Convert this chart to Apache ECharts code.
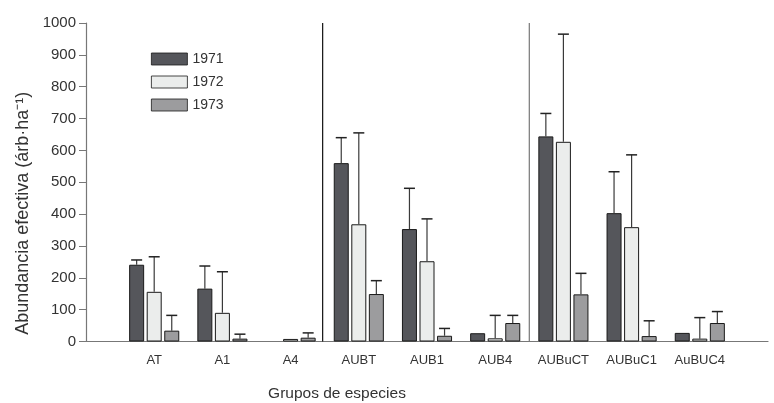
<!DOCTYPE html>
<html>
<head>
<meta charset="utf-8">
<script src="https://cdn.jsdelivr.net/npm/echarts@6/dist/echarts.min.js"></script>
<style>
  html, body { margin: 0; padding: 0; background: #fff; }
  #chart { width: 774px; height: 403px; }
</style>
</head>
<body>
<div id="chart"></div>
<script>
// datos
var categories = ['AT', 'A1', 'A4', 'AUBT', 'AUB1', 'AUB4', 'AUBuCT', 'AUBuC1', 'AuBUC4'];
var years = ['1971', '1972', '1973'];
// null = sin barra
var v1971 = [241, 166, null, 560, 353, 26, 644, 403, 27];
var v1972 = [156, 90, 8, 368, 252, 10, 627, 359, 9];
var v1973 = [34, 9, 12, 149, 18, 58, 148, 17, 58];
// extremo superior de la barra de error (null = sin barra)
var e1971 = [256, 237, null, 640, 481, null, 716, 533, null];
var e1972 = [266, 219, null, 655, 385, 82, 965, 586, 75];
var e1973 = [82, 23, 27, 191, 41, 82, 214, 65, 94];
var yTicks = [0, 100, 200, 300, 400, 500, 600, 700, 800, 900, 1000];
// separadores verticales entre grupos (en unidades de categoria)
var separators = [3.47, 6.5];

var colors = ['#55565b', '#ebedec', '#9c9c9e'];
var barWidth = 15;
var barGap = 0.17;
var font = 'Liberation Sans';

// medio hueco vacio a cada lado
var axisCats = [''].concat(categories, ['']);
function pad(arr) { return [null].concat(arr, [null]); }

var values = [v1971, v1972, v1973];
var errors = [e1971, e1972, e1973];

var series = [];
years.forEach(function (y, i) {
    series.push({
        name: y,
        type: 'bar',
        barWidth: barWidth,
        barGap: (barGap * 100) + '%',
        data: pad(values[i]),
        itemStyle: { color: colors[i], borderColor: '#1a1a1a', borderWidth: 1 }
    });
});

years.forEach(function (y, i) {
    var data = [];
    categories.forEach(function (c, k) {
        if (errors[i][k] != null) data.push([k + 1, values[i][k] || 0, errors[i][k]]);
    });
    series.push({
        name: 'err' + y,
        type: 'custom',
        z: 5,
        data: data,
        renderItem: function (params, api) {
            var base = api.coord([api.value(0), api.value(1)]);
            var top = api.coord([api.value(0), api.value(2)]);
            var x = base[0] + (i - 1) * barWidth * (1 + barGap);
            var cap = 5.5;
            return {
                type: 'group',
                children: [
                    { type: 'line', shape: { x1: x, y1: base[1], x2: x, y2: top[1] },
                      style: { stroke: '#3a3a3a', lineWidth: 1.2 } },
                    { type: 'line', shape: { x1: x - cap, y1: top[1], x2: x + cap, y2: top[1] },
                      style: { stroke: '#222', lineWidth: 1.5 } }
                ]
            };
        }
    });
});

series.push({
    name: 'sep',
    type: 'custom',
    xAxisIndex: 1,
    data: separators.map(function (s, k) { return [s, k]; }),
    renderItem: function (params, api) {
        var p0 = api.coord([api.value(0), yTicks[0]]);
        var p1 = api.coord([api.value(0), yTicks[yTicks.length - 1]]);
        return { type: 'line', shape: { x1: p0[0], y1: p0[1], x2: p1[0], y2: p1[1] },
                 style: { stroke: api.value(1) === 0 ? '#111' : '#777', lineWidth: 1.2 } };
    }
});

var option = {
    animation: false,
    textStyle: { fontFamily: font },
    grid: { left: 86, right: 6, top: 23, bottom: 61.5, outerBoundsMode: 'none' },
    legend: {
        data: years,
        orient: 'vertical',
        left: 146,
        top: 47,
        itemWidth: 36,
        itemHeight: 12,
        itemGap: 9,
        icon: 'rect',
        itemStyle: { borderWidth: 0.8 },
        textStyle: { fontSize: 14, color: '#333', fontFamily: font }
    },
    xAxis: [{
        type: 'category',
        data: axisCats,
        boundaryGap: false,
        name: 'Grupos de especies',
        nameLocation: 'middle',
        nameGap: 44,
        nameTextStyle: { fontSize: 15.5, color: '#333', fontFamily: font, padding: [0, 180, 0, 0] },
        axisLine: { lineStyle: { color: '#777', width: 1.2 } },
        axisTick: { show: false },
        axisLabel: { interval: 0, fontSize: 13, color: '#333', margin: 12, fontFamily: font }
    }, {
        type: 'value',
        min: 0,
        max: axisCats.length - 1,
        show: false
    }],
    yAxis: {
        type: 'value',
        min: yTicks[0],
        max: yTicks[yTicks.length - 1],
        interval: 100,
        name: 'Abundancia efectiva (árb·ha⁻¹)',
        nameLocation: 'middle',
        nameGap: 54,
        nameTextStyle: { fontSize: 18, color: '#333', fontFamily: font, padding: [0, 62, 0, 0] },
        axisLine: { show: true, lineStyle: { color: '#777', width: 1.2 } },
        axisTick: { show: true, length: 7, lineStyle: { color: '#777' } },
        axisLabel: { fontSize: 15, color: '#333', margin: 10, fontFamily: font,
                     formatter: function (v) { return String(v); } },
        splitLine: { show: false }
    },
    series: series
};

var myChart = echarts.init(document.getElementById('chart'));
myChart.setOption(option);
</script>
</body>
</html>
